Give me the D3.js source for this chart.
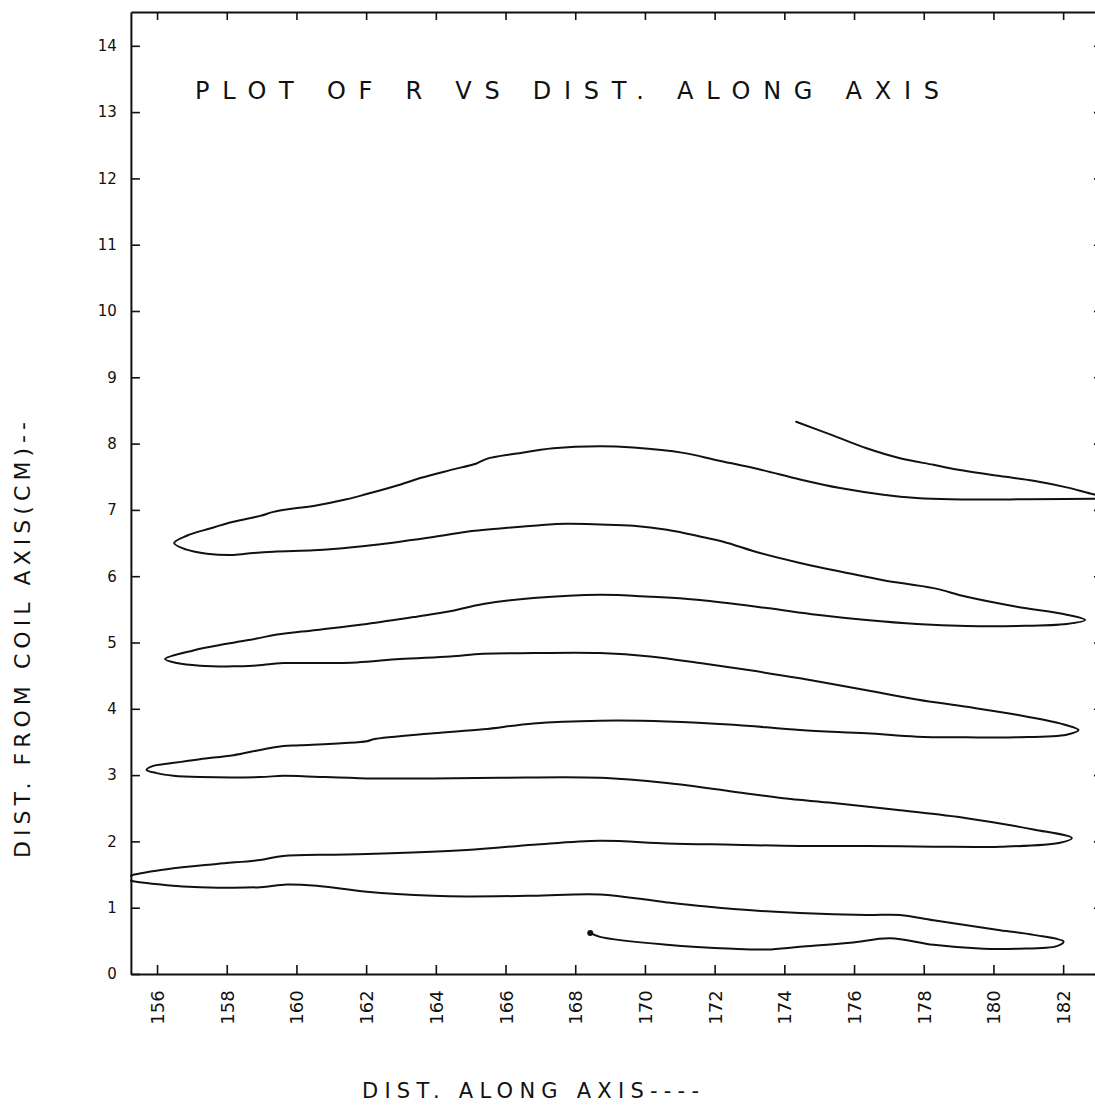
<!DOCTYPE html>
<html>
<head>
<meta charset="utf-8">
<script src="https://cdn.jsdelivr.net/npm/d3@7"></script>
<style>
  html, body { margin: 0; padding: 0; background: #fff; }
  svg { display: block; }
  text { font-family: "DejaVu Sans", "Liberation Sans", sans-serif; fill: #111; }
</style>
</head>
<body>
<script>
// ---- data ----
const xTicks = [156, 158, 160, 162, 164, 166, 168, 170, 172, 174, 176, 178, 180, 182];
const yTicks = [0, 1, 2, 3, 4, 5, 6, 7, 8, 9, 10, 11, 12, 13, 14];
const titleText = "PLOT OF R VS DIST. ALONG AXIS";
const xLabelText = "DIST. ALONG AXIS----";
const yLabelText = "DIST. FROM COIL AXIS(CM)--";

// one continuous meandering contour: [dist along axis, R]
const mainCurve = [
  [168.43, 0.62], [168.71, 0.56], [170.63, 0.44], [172.54, 0.38], [173.50, 0.37], [174.45, 0.41],
  [175.89, 0.47], [177.03, 0.54], [178.28, 0.44], [179.71, 0.38], [180.67, 0.38], [181.82, 0.42],
  [182.01, 0.49], [181.15, 0.59], [180.19, 0.66], [178.28, 0.81], [177.32, 0.89], [176.36, 0.89],
  [174.45, 0.92], [172.54, 0.98], [170.63, 1.08], [168.71, 1.20], [166.80, 1.18], [164.89, 1.17],
  [163.93, 1.18], [162.02, 1.24], [160.58, 1.33], [159.72, 1.35], [158.96, 1.31], [157.23, 1.31],
  [156.28, 1.34], [155.23, 1.41], [155.12, 1.44], [155.23, 1.48], [156.28, 1.58], [157.71, 1.66],
  [158.96, 1.72], [159.62, 1.78], [161.06, 1.80], [162.02, 1.81], [164.89, 1.87], [166.80, 1.95],
  [168.71, 2.01], [170.63, 1.97], [172.54, 1.95], [174.45, 1.93], [176.36, 1.93], [178.28, 1.92],
  [180.19, 1.92], [181.91, 1.98], [182.25, 2.05], [181.15, 2.18], [179.23, 2.35], [177.32, 2.47],
  [175.41, 2.58], [173.97, 2.65], [172.54, 2.75], [170.63, 2.88], [168.71, 2.96], [165.84, 2.96],
  [163.93, 2.95], [162.02, 2.95], [160.30, 2.98], [159.62, 2.99], [158.96, 2.97], [157.23, 2.97],
  [156.47, 2.99], [155.99, 3.03], [155.70, 3.08], [155.89, 3.14], [156.28, 3.17], [157.23, 3.24],
  [158.19, 3.30], [158.96, 3.38], [159.62, 3.44], [160.10, 3.45], [162.02, 3.51], [162.21, 3.54],
  [163.93, 3.63], [165.36, 3.69], [166.80, 3.78], [168.71, 3.82], [170.63, 3.81], [172.54, 3.76],
  [174.45, 3.68], [176.36, 3.63], [177.80, 3.58], [179.23, 3.57], [180.67, 3.57], [182.10, 3.61],
  [182.44, 3.68], [181.91, 3.78], [180.67, 3.91], [179.23, 4.03], [177.80, 4.14], [176.36, 4.28],
  [174.45, 4.46], [173.02, 4.58], [171.58, 4.69], [170.15, 4.79], [168.71, 4.84], [166.80, 4.84],
  [165.36, 4.83], [164.41, 4.79], [162.97, 4.75], [161.73, 4.70], [160.58, 4.69], [159.62, 4.69],
  [158.76, 4.65], [158.19, 4.64], [157.23, 4.65], [156.57, 4.69], [156.23, 4.75], [157.04, 4.88],
  [158.00, 4.98], [158.86, 5.06], [159.44, 5.12], [160.58, 5.19], [162.02, 5.28], [163.45, 5.39],
  [164.41, 5.47], [165.36, 5.58], [166.80, 5.67], [168.71, 5.72], [170.15, 5.69], [171.58, 5.64],
  [173.50, 5.52], [174.93, 5.42], [176.36, 5.34], [177.80, 5.28], [179.23, 5.25], [180.67, 5.25],
  [182.10, 5.28], [182.63, 5.34], [182.10, 5.42], [180.67, 5.54], [179.23, 5.69], [178.28, 5.82],
  [176.84, 5.94], [175.89, 6.04], [174.45, 6.20], [173.30, 6.35], [172.25, 6.52], [171.58, 6.60],
  [170.63, 6.70], [169.67, 6.76], [168.71, 6.78], [167.76, 6.79], [166.99, 6.77], [165.84, 6.72],
  [164.89, 6.67], [163.93, 6.59], [162.97, 6.52], [162.21, 6.47], [161.06, 6.41], [160.49, 6.39],
  [159.34, 6.37], [158.76, 6.35], [158.19, 6.32], [157.43, 6.34], [156.85, 6.40], [156.49, 6.50],
  [156.85, 6.61], [157.52, 6.72], [158.19, 6.82], [158.96, 6.91], [159.34, 6.97], [159.91, 7.02],
  [160.49, 7.06], [161.44, 7.16], [162.02, 7.24], [162.97, 7.38], [163.55, 7.48], [164.41, 7.60],
  [165.17, 7.70], [165.46, 7.77], [166.32, 7.85], [167.37, 7.93], [168.71, 7.96], [169.67, 7.94],
  [171.10, 7.86], [172.06, 7.75], [173.30, 7.61], [174.45, 7.46], [175.60, 7.33], [176.84, 7.23],
  [177.80, 7.18], [178.76, 7.16], [181.00, 7.16], [183.50, 7.17]
];

// separate branch entering at top right
const upperBranch = [
  [174.34, 8.33], [175.41, 8.12], [176.36, 7.93], [177.32, 7.78], [178.28, 7.68], [178.95, 7.61],
  [180.19, 7.51], [181.15, 7.44], [182.10, 7.34], [182.92, 7.23], [183.50, 7.19]
];

const startPoint = [168.43, 0.62];

// ---- layout ----
const W = 1095, H = 1105;
const xDomain = [155.25, 183.2];
const yDomain = [0, 14.51];

const svg = d3.select("body").append("svg").attr("width", W).attr("height", H);

const x = d3.scaleLinear().domain(xDomain).range([130.9, 130.9 + (xDomain[1] - xDomain[0]) * 34.85]);
const y = d3.scaleLinear().domain(yDomain).range([974, 974 - yDomain[1] * 66.3]);

const pLeft = x(xDomain[0]), pRight = x(xDomain[1]);
const pBottom = y(yDomain[0]), pTop = y(yDomain[1]);

svg.append("defs").append("clipPath").attr("id", "plotclip")
  .append("rect").attr("x", pLeft - 1).attr("y", pTop).attr("width", pRight - pLeft + 1).attr("height", pBottom - pTop);

// curves
const line = d3.line().x(d => x(d[0])).y(d => y(d[1])).curve(d3.curveCatmullRom.alpha(0.5));
const gCurves = svg.append("g").attr("clip-path", "url(#plotclip)");
[mainCurve, upperBranch].forEach(c => {
  gCurves.append("path").attr("d", line(c))
    .attr("fill", "none").attr("stroke", "#111").attr("stroke-width", 2)
    .attr("stroke-linejoin", "round").attr("stroke-linecap", "round");
});
gCurves.append("circle").attr("cx", x(startPoint[0])).attr("cy", y(startPoint[1])).attr("r", 3).attr("fill", "#111");

// axes
function styleAxis(g) {
  g.selectAll(".domain").attr("stroke", "#111").attr("stroke-width", 2);
  g.selectAll(".tick line").attr("stroke", "#111").attr("stroke-width", 1.6);
}

const gx = svg.append("g").attr("transform", `translate(0,${pBottom})`)
  .call(d3.axisBottom(x).tickValues(xTicks).tickSizeInner(-9).tickSizeOuter(0).tickFormat(d3.format("d")));
styleAxis(gx);
gx.selectAll(".tick text")
  .attr("transform", "rotate(-90)")
  .attr("text-anchor", "middle")
  .attr("x", -33.5).attr("y", 0).attr("dy", "0.36em")
  .style("font-size", "18px").style("font-family", "'DejaVu Sans', sans-serif").attr("fill", "#111");

const gxt = svg.append("g").attr("transform", `translate(0,${pTop})`)
  .call(d3.axisTop(x).tickValues(xTicks).tickSizeInner(-8).tickSizeOuter(0).tickFormat(""));
styleAxis(gxt);

const gy = svg.append("g").attr("transform", `translate(${pLeft},0)`)
  .call(d3.axisLeft(y).tickValues(yTicks).tickSizeInner(-9).tickSizeOuter(0).tickPadding(14).tickFormat(d3.format("d")));
styleAxis(gy);
gy.selectAll(".tick text")
  .style("font-size", "15px").style("font-family", "'DejaVu Sans', sans-serif").attr("fill", "#111");

const gyr = svg.append("g").attr("transform", `translate(${pRight},0)`)
  .call(d3.axisRight(y).tickValues(yTicks).tickSizeInner(-11).tickSizeOuter(0).tickFormat(""));
styleAxis(gyr);

// title
svg.append("text").attr("x", 195).attr("y", 99)
  .attr("textLength", 744).attr("lengthAdjust", "spacing")
  .style("font-size", "24px").text(titleText);

// x axis title
svg.append("text").attr("x", 362).attr("y", 1098)
  .attr("textLength", 337).attr("lengthAdjust", "spacing")
  .style("font-size", "21px").text(xLabelText);

// y axis title
svg.append("text").attr("transform", "translate(30,858) rotate(-90)")
  .attr("x", 0).attr("y", 0)
  .attr("textLength", 436).attr("lengthAdjust", "spacing")
  .style("font-size", "22px").text(yLabelText);
</script>
</body>
</html>
